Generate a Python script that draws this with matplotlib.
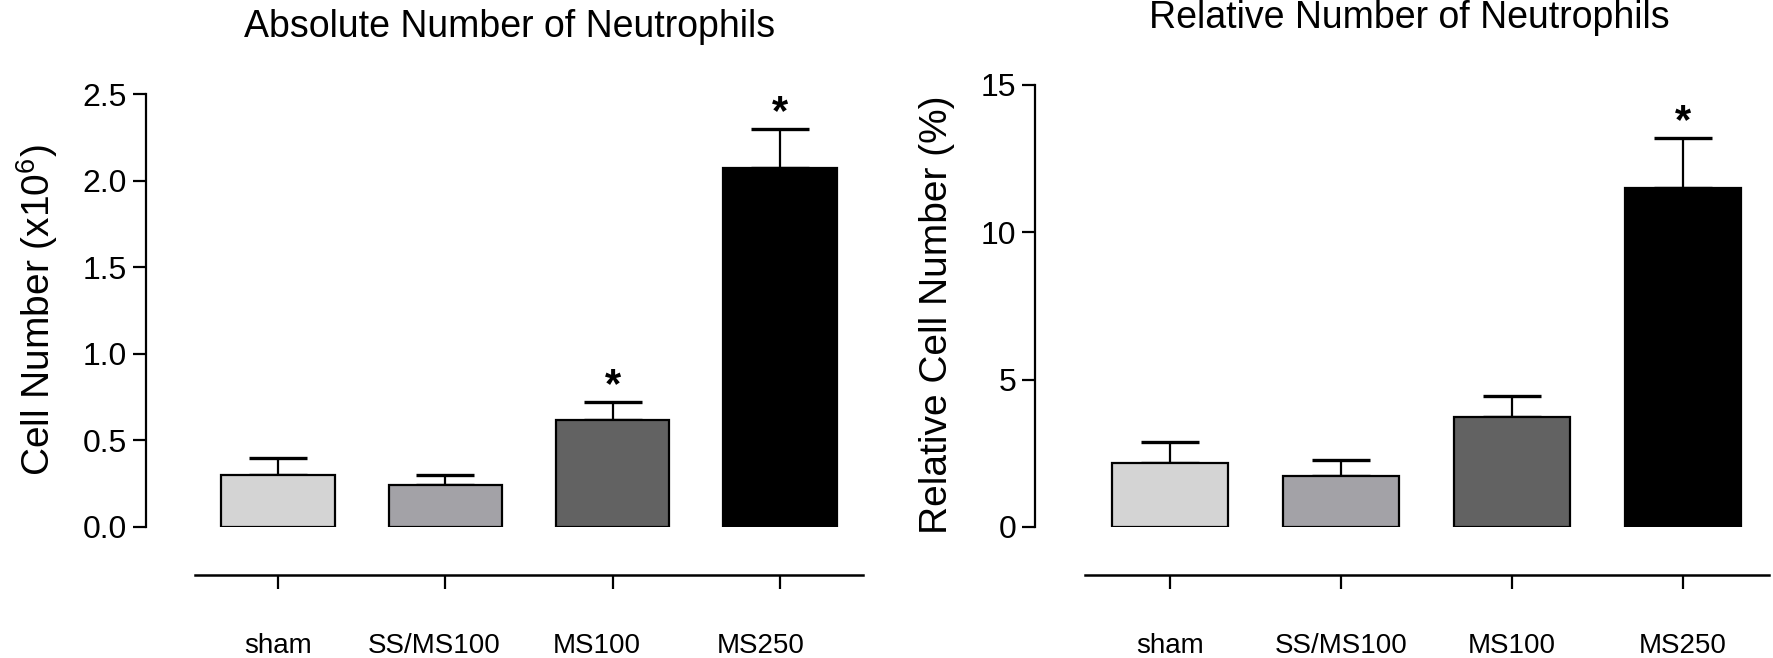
import matplotlib
matplotlib.use("Agg")
import matplotlib.pyplot as plt
import matplotlib.transforms as mtransforms

plt.rcParams['font.family'] = ['Liberation Sans', 'DejaVu Sans']
plt.rcParams['mathtext.fontset'] = 'custom'
plt.rcParams['mathtext.rm'] = 'Liberation Sans'
plt.rcParams['mathtext.it'] = 'Liberation Sans:italic'
plt.rcParams['mathtext.bf'] = 'Liberation Sans:bold'

# Data
groups = ['sham', 'SS/MS100', 'MS100', 'MS250']
bar_colors = ['#d4d4d4', '#a3a2a7', '#626262', '#000000']

abs_means = [0.30, 0.24, 0.62, 2.07]
abs_sem = [0.10, 0.06, 0.10, 0.23]
abs_signif = [False, False, True, True]

rel_means = [2.17, 1.73, 3.73, 11.5]
rel_sem = [0.71, 0.54, 0.72, 1.7]
rel_signif = [False, False, False, True]

DPI = 100
W, H = 1774, 658


def draw_panel(ax, means, sem, signif, ylim, yticks, yticklabels, ylabel, ylabel_size):
    x = list(range(len(groups)))
    ax.bar(x, means, width=0.68, color=bar_colors, edgecolor='black',
           linewidth=1.6, zorder=3)
    ax.errorbar(x, means, yerr=[[0] * len(sem), sem], fmt='none',
                ecolor='black', elinewidth=1.6, capsize=21, capthick=2.4,
                zorder=2)
    for xi, m, s, star in zip(x, means, sem, signif):
        if star:
            ax.annotate('*', xy=(xi, m + s), xytext=(0, -3),
                        textcoords='offset points', ha='center', va='bottom',
                        fontsize=30, fontweight='bold', clip_on=False)

    ax.set_xlim(-0.79, 3.5)
    ax.set_ylim(*ylim)
    ax.set_yticks(yticks)
    ax.set_yticklabels(yticklabels)
    ax.set_xticks(x)
    ax.set_xticklabels(groups)

    ax.spines['top'].set_visible(False)
    ax.spines['right'].set_visible(False)
    ax.spines['left'].set_linewidth(1.6)
    ax.spines['bottom'].set_linewidth(1.8)
    ax.spines['bottom'].set_position(('outward', 34.5))
    ax.spines['bottom'].set_bounds(-0.5, 3.5)

    ax.tick_params(axis='y', length=9.5, width=1.6, pad=4, labelsize=23)
    ax.tick_params(axis='x', length=10, width=1.6, pad=32, labelsize=20)
    ax.set_ylabel(ylabel, fontsize=ylabel_size)


fig = plt.figure(figsize=(W / DPI, H / DPI), dpi=DPI)

ax1 = fig.add_axes([146 / W, (H - 527) / H, 717.5 / W, 433 / H])
draw_panel(ax1, abs_means, abs_sem, abs_signif, (0, 2.5),
           [0, 0.5, 1.0, 1.5, 2.0, 2.5],
           ['0.0', '0.5', '1.0', '1.5', '2.0', '2.5'],
           r'Cell Number (x10$^{6}$)', 28)
ax1.yaxis.set_label_coords(-0.12, 0.5)

# the group labels of the left panel sit a little left of their ticks
for lab, dx in zip(ax1.get_xticklabels(), [0, -11, -16, -19]):
    lab.set_transform(lab.get_transform() +
                      mtransforms.ScaledTranslation(dx / DPI, 0, fig.dpi_scale_trans))

ax2 = fig.add_axes([1035 / W, (H - 527) / H, 733.5 / W, 442 / H])
draw_panel(ax2, rel_means, rel_sem, rel_signif, (0, 15),
           [0, 5, 10, 15], ['0', '5', '10', '15'],
           'Relative Cell Number (%)', 28)
ax2.yaxis.set_label_coords(-0.109, 0.48)

fig.text(510 / W, 1 - 27 / H, 'Absolute Number of Neutrophils',
         ha='center', va='center', fontsize=27)
fig.text(1409 / W, 1 - 18 / H, 'Relative Number of Neutrophils',
         ha='center', va='center', fontsize=27)

fig.savefig('out.png', dpi=DPI)
